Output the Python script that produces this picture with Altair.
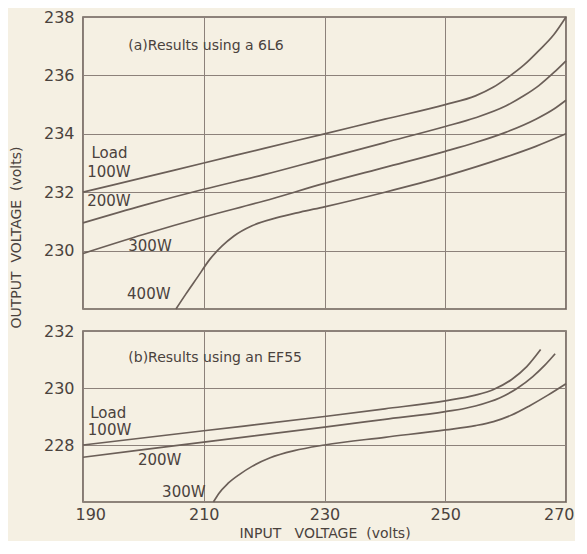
import altair as alt
import pandas as pd

# ---------------- Panel (a): results using a 6L6 ----------------
a100_in = [190, 200, 210, 220, 230, 240, 250, 255, 258, 260.5, 263, 265.5, 268, 270]
a100_out = [232.0, 232.5, 233.0, 233.5, 234.0, 234.5, 235.0, 235.3, 235.6, 235.95, 236.35, 236.85, 237.4, 238.0]

a200_in = [190, 200, 210, 220, 230, 240, 250, 255, 260, 263, 265.5, 268, 270]
a200_out = [230.95, 231.55, 232.1, 232.6, 233.15, 233.7, 234.25, 234.55, 234.95, 235.3, 235.65, 236.1, 236.5]

a300_in = [190, 200, 210, 220, 230, 240, 250, 255, 260, 265, 268, 270]
a300_out = [229.9, 230.55, 231.15, 231.7, 232.3, 232.85, 233.4, 233.7, 234.05, 234.5, 234.85, 235.15]

a400_in = [205.4, 207, 209, 211, 213, 215, 218, 222, 226, 230, 240, 250, 260, 265, 270]
a400_out = [228.0, 228.5, 229.1, 229.7, 230.15, 230.5, 230.85, 231.12, 231.32, 231.5, 232.0, 232.55, 233.2, 233.57, 234.0]

# ---------------- Panel (b): results using an EF55 ----------------
b100_in = [190, 210, 230, 240, 250, 255, 258, 261, 263.5, 265.8]
b100_out = [228.0, 228.5, 229.0, 229.27, 229.55, 229.75, 229.95, 230.3, 230.75, 231.35]

b200_in = [190, 210, 230, 240, 250, 255, 259, 262, 264.5, 266.5, 268.2]
b200_out = [227.57, 228.1, 228.63, 228.9, 229.17, 229.37, 229.65, 230.0, 230.4, 230.8, 231.2]

b300_in = [211.6, 212.5, 214, 216, 218, 221, 225, 230, 240, 250, 255, 258, 261, 264, 267, 270]
b300_out = [226.0, 226.3, 226.65, 226.98, 227.25, 227.55, 227.8, 228.0, 228.27, 228.53, 228.68, 228.82, 229.05, 229.38, 229.75, 230.15]

# ---------------- labels ----------------
x_ticks = [190, 210, 230, 250, 270]
a_y_ticks = [230, 232, 234, 236, 238]
b_y_ticks = [228, 230, 232]

a_heading = ["(a)Results using a 6L6"]
a_heading_x = [197.5]
a_heading_y = [237.0]
a_load_text = ["Load", "100W", "200W", "300W", "400W"]
a_load_x = [191.4, 190.7, 190.7, 197.5, 197.3]
a_load_y = [233.33, 232.7, 231.7, 230.16, 228.5]

b_heading = ["(b)Results using an EF55"]
b_heading_x = [197.5]
b_heading_y = [231.05]
b_load_text = ["Load", "100W", "200W", "300W"]
b_load_x = [191.2, 190.8, 199.1, 203.1]
b_load_y = [229.12, 228.54, 227.46, 226.34]

INK = "#4a423d"
LINE = "#6b5f58"
GRID = "#8c817a"
BG = "#f5f0e3"
FONT = "DejaVu Sans"


def series_frame(parts):
    rows = []
    for name, xs, ys in parts:
        for i, (x, y) in enumerate(zip(xs, ys)):
            rows.append({"load": name, "input": x, "output": y, "order": i})
    return pd.DataFrame(rows)


df_a = series_frame([
    ("100W", a100_in, a100_out),
    ("200W", a200_in, a200_out),
    ("300W", a300_in, a300_out),
    ("400W", a400_in, a400_out),
])
df_b = series_frame([
    ("100W", b100_in, b100_out),
    ("200W", b200_in, b200_out),
    ("300W", b300_in, b300_out),
])

x_scale = alt.Scale(domain=[190, 270], nice=False, zero=False)


def panel(df, ydom, yticks, heading, hx, hy, ltext, lx, ly, height, bottom, ytitle):
    ys = alt.Scale(domain=ydom, nice=False, zero=False)
    if bottom:
        xaxis = alt.Axis(values=x_ticks, title="INPUT\u00a0\u00a0\u00a0VOLTAGE\u00a0\u00a0(volts)",
                         labelFlush=True, labelFlushOffset=8, labelPadding=4,
                         titlePadding=4, titleFontSize=14)
    else:
        xaxis = alt.Axis(values=x_ticks, labels=False, title=None)
    if ytitle:
        yaxis = alt.Axis(values=yticks, title="OUTPUT\u00a0\u00a0VOLTAGE\u00a0\u00a0(volts)",
                         titleY=220, titlePadding=20, titleFontSize=14, labelPadding=9)
    else:
        yaxis = alt.Axis(values=yticks, title=None, labelPadding=9)

    lines = alt.Chart(df).mark_line(color=LINE, strokeWidth=1.7, interpolate="monotone").encode(
        x=alt.X("input:Q", scale=x_scale, axis=xaxis),
        y=alt.Y("output:Q", scale=ys, axis=yaxis),
        detail="load:N",
        order="order:Q",
    )
    hdf = pd.DataFrame({"t": heading, "x": hx, "y": hy})
    head = alt.Chart(hdf).mark_text(align="left", baseline="middle", font=FONT,
                                    fontSize=14, color=INK).encode(
        x=alt.X("x:Q", scale=x_scale), y=alt.Y("y:Q", scale=ys), text="t:N")
    ldf = pd.DataFrame({"t": ltext, "x": lx, "y": ly})
    loads = alt.Chart(ldf).mark_text(align="left", baseline="middle", font=FONT,
                                     fontSize=15, color=INK).encode(
        x=alt.X("x:Q", scale=x_scale), y=alt.Y("y:Q", scale=ys), text="t:N")
    return alt.layer(lines, head, loads).properties(width=483, height=height)


top = panel(df_a, [228, 238], a_y_ticks, a_heading, a_heading_x, a_heading_y,
            a_load_text, a_load_x, a_load_y, 292, False, True)
bot = panel(df_b, [226, 232], b_y_ticks, b_heading, b_heading_x, b_heading_y,
            b_load_text, b_load_x, b_load_y, 171, True, False)

chart = alt.vconcat(top, bot, spacing=22, bounds="flush").properties(
    background=BG, padding=0
).configure_view(
    stroke=LINE, strokeWidth=1.6
).configure_axis(
    domain=False, ticks=False, grid=True, gridColor=GRID, gridWidth=1, gridOpacity=1,
    labelFont=FONT, labelFontSize=16, labelColor=INK,
    titleFont=FONT, titleColor=INK, titleFontWeight="normal",
)

chart.save("out.html", embed_options={"renderer": "svg", "actions": False})
